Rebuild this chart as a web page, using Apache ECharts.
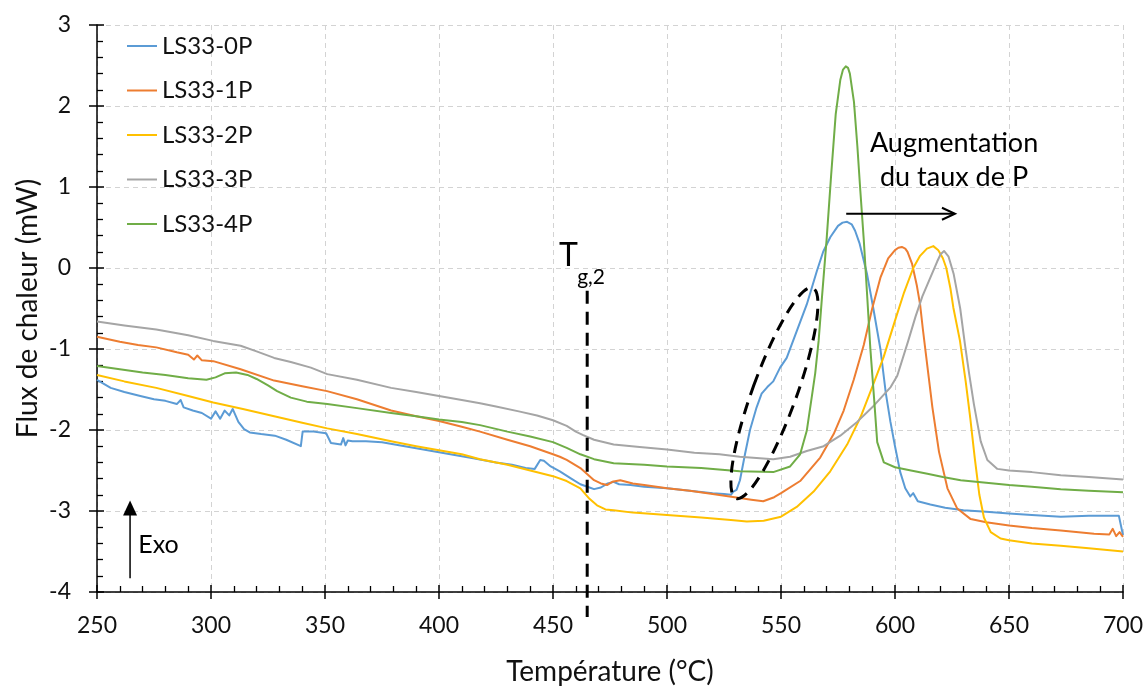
<!DOCTYPE html>
<html><head><meta charset="utf-8">
<script src="https://cdn.jsdelivr.net/npm/echarts@6/dist/echarts.min.js"></script>
<style>html,body{margin:0;padding:0;background:#fff}#c{width:1148px;height:686px}</style>
</head><body><div id="c"></div>
<script>
// ---- Data ----
const SERIES_NAMES = ['LS33-0P', 'LS33-1P', 'LS33-2P', 'LS33-3P', 'LS33-4P'];
const SERIES_COLORS = ['#5B9BD5', '#ED7D31', '#FFC000', '#A5A5A5', '#70AD47'];

const T0 = [250,256,262,269,275,280,285,286.7,288,292,296,300,302,304,306,308,309.5,312,314.5,317,322,328,333,339.4,340.2,341,345,348,350.5,352.6,357,358,359,360,362,368,375,385,395,405,415,425,432,438,442,444.4,446,449,453,458,462,466,468,471,474,476.6,479,484,490,500,510,520,525,528,529.1,530.5,532,534.2,536.4,539.3,541.5,544,546.6,549.6,552.5,556.9,561.3,565.7,568.5,571.6,575,577,579,581,582.5,584.5,587.7,590.5,593.6,596,598,600,602.3,604.5,606.7,608,610,615.5,622,630,640,650,660,672.7,685,698.2,700];
const V0 = [-1.38,-1.48,-1.53,-1.58,-1.62,-1.64,-1.68,-1.63,-1.72,-1.76,-1.79,-1.86,-1.77,-1.86,-1.76,-1.82,-1.74,-1.90,-1.99,-2.03,-2.05,-2.07,-2.12,-2.20,-2.02,-2.01,-2.02,-2.03,-2.04,-2.16,-2.18,-2.10,-2.19,-2.13,-2.14,-2.14,-2.15,-2.20,-2.25,-2.30,-2.35,-2.40,-2.43,-2.47,-2.48,-2.37,-2.38,-2.45,-2.51,-2.60,-2.67,-2.71,-2.73,-2.71,-2.66,-2.64,-2.67,-2.68,-2.70,-2.72,-2.75,-2.78,-2.79,-2.80,-2.76,-2.74,-2.62,-2.30,-2.00,-1.72,-1.55,-1.47,-1.40,-1.23,-1.11,-0.78,-0.45,-0.04,0.20,0.38,0.52,0.56,0.57,0.54,0.46,0.30,-0.07,-0.50,-1.00,-1.55,-1.90,-2.20,-2.52,-2.72,-2.82,-2.78,-2.88,-2.92,-2.96,-2.99,-3.01,-3.03,-3.05,-3.07,-3.06,-3.06,-3.30];

const T1 = [250,260,268,276,285,290,292.5,294,296,301,313,327.7,340,350.9,364,379,390,400,410,418,430,440,445,450,453,456,462,468,471,473.7,476,479.5,485,490,500,510,520,531.9,537,542.2,547,550,558.4,567.2,573.1,577.5,581.9,586.3,590,593.6,597,600,601.5,603,604.5,605.5,607.5,609.6,611,612.2,613.5,614.8,616.4,619.3,623,627.3,633.2,640,650,660,672.7,687.3,694,695.5,697,698.5,700];
const V1 = [-0.85,-0.91,-0.95,-0.98,-1.04,-1.07,-1.13,-1.08,-1.14,-1.15,-1.25,-1.39,-1.46,-1.52,-1.62,-1.76,-1.83,-1.89,-1.96,-2.02,-2.12,-2.20,-2.25,-2.30,-2.33,-2.37,-2.47,-2.62,-2.66,-2.68,-2.64,-2.62,-2.66,-2.68,-2.72,-2.75,-2.79,-2.84,-2.86,-2.88,-2.83,-2.78,-2.63,-2.34,-2.05,-1.76,-1.38,-0.95,-0.50,-0.12,0.12,0.22,0.25,0.26,0.24,0.20,0.05,-0.22,-0.45,-0.75,-1.05,-1.35,-1.72,-2.27,-2.72,-2.97,-3.10,-3.14,-3.18,-3.21,-3.24,-3.28,-3.29,-3.22,-3.31,-3.26,-3.32];

const T2 = [250,262,276,290,301,314,327.7,340,351,364,379,390,400,410,418,430,440,450,456,462,466,469.3,473,476.6,485,500,515,528,535,542.4,550,556.9,564.3,571.6,579,584.9,590,595,600,604,608,611,614,616.8,619,621,622.5,624.3,625.6,628.5,631,633,635,637,639,642,646.3,650,660,672.7,685,700];
const V2 = [-1.32,-1.40,-1.48,-1.58,-1.66,-1.74,-1.83,-1.91,-1.98,-2.05,-2.14,-2.20,-2.25,-2.30,-2.36,-2.43,-2.50,-2.57,-2.63,-2.72,-2.85,-2.93,-2.98,-2.99,-3.02,-3.05,-3.08,-3.11,-3.13,-3.12,-3.07,-2.95,-2.76,-2.51,-2.18,-1.84,-1.47,-1.10,-0.65,-0.30,0.00,0.15,0.24,0.27,0.22,0.12,0.00,-0.25,-0.49,-0.90,-1.40,-1.85,-2.35,-2.80,-3.08,-3.26,-3.34,-3.36,-3.40,-3.43,-3.46,-3.50];

const T3 = [250,262,276,290,300.9,313,320,327.7,335,343.8,351,364,379,390,400,410,418,425,435,443,450,456,460,463,468,476.6,488,500,512,523,531.9,546.6,554,561.3,568.7,576,583.4,590.7,598.1,601,605.8,609,612,615.5,618.5,620,621.5,623.5,625.7,628.6,630.7,632.5,634.6,637.6,640.5,644.9,650,660,672.7,685,700];
const V3 = [-0.66,-0.71,-0.76,-0.83,-0.90,-0.96,-1.03,-1.11,-1.16,-1.23,-1.31,-1.38,-1.48,-1.53,-1.58,-1.63,-1.67,-1.71,-1.77,-1.82,-1.88,-1.95,-2.02,-2.06,-2.12,-2.18,-2.21,-2.24,-2.28,-2.30,-2.33,-2.36,-2.33,-2.26,-2.20,-2.07,-1.90,-1.70,-1.47,-1.33,-0.90,-0.60,-0.35,-0.12,0.08,0.17,0.21,0.14,-0.07,-0.50,-0.95,-1.30,-1.68,-2.14,-2.37,-2.48,-2.50,-2.52,-2.56,-2.58,-2.61];

const T4 = [250,260,270,280,290,298,302,306,311,316,320,325,329,335,342,351,364,379,390,400,410,418,430,440,450,456,462,468,476.6,490,500,515,531.9,546.6,554,558.4,561.3,563.5,565,566.5,568,570,572,574,576,577.2,578.4,579.4,580.2,582,583.5,584.8,586.3,587.7,589.2,590.8,592.2,595.1,600,607,614.2,621,628.8,640,650,660,672.7,685,700];
const V4 = [-1.21,-1.25,-1.29,-1.32,-1.36,-1.38,-1.35,-1.30,-1.29,-1.32,-1.37,-1.45,-1.52,-1.60,-1.65,-1.68,-1.73,-1.79,-1.83,-1.87,-1.90,-1.94,-2.02,-2.08,-2.15,-2.22,-2.30,-2.36,-2.41,-2.43,-2.45,-2.47,-2.51,-2.52,-2.45,-2.30,-2.01,-1.59,-1.30,-0.90,-0.35,0.35,1.15,1.90,2.32,2.45,2.49,2.47,2.40,2.05,1.50,0.95,0.35,-0.30,-1.00,-1.60,-2.15,-2.40,-2.46,-2.50,-2.54,-2.58,-2.62,-2.65,-2.68,-2.70,-2.73,-2.75,-2.77];

const TEMPS = [T0, T1, T2, T3, T4];
const VALUES = [V0, V1, V2, V3, V4];

// axis ranges / ticks
const X_MIN = 250, X_MAX = 700, X_STEP = 50;
const Y_MIN = -4, Y_MAX = 3, Y_STEP = 1;
const X_TITLE = 'Température (°C)';
const Y_TITLE = 'Flux de chaleur (mW)';

// annotations (data coordinates)
const TG_X = 465, TG_TOP = -0.28, TG_BOTTOM = -4.31;
const TG_LABEL = [452.6, 0.15], TG_SUB = [460.6, -0.12];
const ELLIPSE_C = [547.1, -1.545];
const ARROW_X0 = 578.6, ARROW_X1 = 626.3, ARROW_Y = 0.67;
const ANNOT_TEXT = ['Augmentation', 'du taux de P'];
const ANNOT_POS = [625.9, 1.54], ANNOT_POS2 = [625.9, 1.12];
const EXO_X = 264.5, EXO_Y0 = -3.83, EXO_Y1 = -2.87;
const EXO_TEXT_POS = [268.1, -3.42];

const FONT = 'Lato, "Open Sans", sans-serif';
const TXT = '#111';

const chart = echarts.init(document.getElementById('c'), null, {renderer: 'canvas'});

const series = SERIES_NAMES.map((n, i) => ({
  name: n, type: 'line', xAxisIndex: 0, yAxisIndex: 0,
  data: TEMPS[i].map((t, k) => [t, VALUES[i][k]]),
  symbol: 'none', showSymbol: false, smooth: false,
  lineStyle: {color: SERIES_COLORS[i], width: 2, join: 'round'},
  itemStyle: {color: SERIES_COLORS[i]},
  emphasis: {disabled: true}, z: 2
}));

const gridLine = {show: true, lineStyle: {color: '#d3d3d3', width: 1, type: [5, 4]}};
const axisBlack = {color: '#000', width: 1.5};

chart.setOption({
  animation: false,
  backgroundColor: '#fff',
  grid: {left: 97, right: 25, top: 25, bottom: 94, containLabel: false, outerBoundsMode: 'none'},
  legend: {
    data: SERIES_NAMES, orient: 'vertical', left: 127, top: 33, padding: 0,
    icon: 'rect', itemWidth: 30, itemHeight: 2, itemGap: 18.5,
    textStyle: {fontFamily: FONT, fontSize: 24, lineHeight: 26, color: TXT},
    selectedMode: false
  },
  xAxis: [{
    type: 'value', position: 'bottom', min: X_MIN, max: X_MAX, interval: X_STEP,
    axisLine: {show: true, onZero: false, lineStyle: axisBlack},
    axisTick: {show: true, inside: false, length: 7, lineStyle: axisBlack},
    minorTick: {show: false},
    splitLine: gridLine,
    axisLabel: {fontFamily: FONT, fontSize: 23, color: TXT, margin: 22},
    name: X_TITLE, nameLocation: 'middle', nameGap: 66, nameMoveOverlap: false,
    nameTextStyle: {fontFamily: FONT, fontSize: 28, color: TXT}
  }, {
    type: 'value', position: 'bottom', min: X_MIN, max: X_MAX, interval: X_STEP,
    axisLine: {show: false, onZero: false},
    axisTick: {show: true, inside: true, length: 7, lineStyle: axisBlack},
    minorTick: {show: true, splitNumber: 5, length: 6, lineStyle: {color: '#000', width: 1.3}},
    splitLine: {show: false}, axisLabel: {show: false}
  }],
  yAxis: [{
    type: 'value', position: 'left', min: Y_MIN, max: Y_MAX, interval: Y_STEP,
    axisLine: {show: true, onZero: false, lineStyle: axisBlack},
    axisTick: {show: true, inside: false, length: 8, lineStyle: axisBlack},
    minorTick: {show: false},
    splitLine: gridLine,
    axisLabel: {fontFamily: FONT, fontSize: 23, color: TXT, margin: 26},
    name: Y_TITLE, nameLocation: 'middle', nameGap: 55, nameRotate: 90, nameMoveOverlap: false,
    nameTextStyle: {fontFamily: FONT, fontSize: 28, color: TXT}
  }, {
    type: 'value', position: 'left', min: Y_MIN, max: Y_MAX, interval: Y_STEP,
    axisLine: {show: false, onZero: false},
    axisTick: {show: true, inside: true, length: 7, lineStyle: axisBlack},
    minorTick: {show: true, splitNumber: 5, length: 6, lineStyle: {color: '#000', width: 1.3}},
    splitLine: {show: false}, axisLabel: {show: false}
  }],
  series: series
});

const px = (x, y) => chart.convertToPixel({xAxisIndex: 0, yAxisIndex: 0}, [x, y]);
const textEl = (str, p, size, align) => ({
  type: 'text', z: 100,
  style: {text: str, x: p[0], y: p[1], font: size + 'px ' + FONT, fill: '#000',
          align: align, textAlign: align, verticalAlign: 'middle', textVerticalAlign: 'middle'}
});

const tgTop = px(TG_X, TG_TOP), tgBot = px(TG_X, TG_BOTTOM);
const ec = px(ELLIPSE_C[0], ELLIPSE_C[1]);
const a0 = px(ARROW_X0, ARROW_Y), a1 = px(ARROW_X1, ARROW_Y);
const e0 = px(EXO_X, EXO_Y0), e1 = px(EXO_X, EXO_Y1);

chart.setOption({
  graphic: [
    {type: 'line', z: 100, shape: {x1: tgTop[0], y1: tgTop[1], x2: tgBot[0], y2: tgBot[1]},
     style: {stroke: '#000', lineWidth: 3, lineDash: [13, 8]}},
    textEl('T', px(TG_LABEL[0], TG_LABEL[1]), 32, 'left'),
    textEl('g,2', px(TG_SUB[0], TG_SUB[1]), 21, 'left'),
    {type: 'ellipse', z: 100, x: ec[0], y: ec[1], rotation: -20 * Math.PI / 180,
     shape: {cx: 0, cy: 0, rx: 22, ry: 112},
     style: {fill: 'none', stroke: '#000', lineWidth: 3, lineDash: [12, 8]}},
    {type: 'line', z: 100, shape: {x1: a0[0], y1: a0[1], x2: a1[0] - 1, y2: a1[1]},
     style: {stroke: '#000', lineWidth: 2}},
    {type: 'polyline', z: 100, shape: {points: [[a1[0] - 13, a1[1] - 6], [a1[0], a1[1]], [a1[0] - 13, a1[1] + 6]]},
     style: {stroke: '#000', lineWidth: 2, fill: 'none'}},
    textEl(ANNOT_TEXT[0], px(ANNOT_POS[0], ANNOT_POS[1]), 27, 'center'),
    textEl(ANNOT_TEXT[1], px(ANNOT_POS2[0], ANNOT_POS2[1]), 27, 'center'),
    {type: 'line', z: 100, shape: {x1: e0[0], y1: e0[1], x2: e1[0], y2: e1[1] + 12},
     style: {stroke: '#000', lineWidth: 1.5}},
    {type: 'polygon', z: 100, shape: {points: [[e1[0], e1[1]], [e1[0] - 7, e1[1] + 15], [e1[0] + 7, e1[1] + 15]]},
     style: {fill: '#000'}},
    textEl('Exo', px(EXO_TEXT_POS[0], EXO_TEXT_POS[1]), 25, 'left')
  ]
});
</script>
</body></html>
